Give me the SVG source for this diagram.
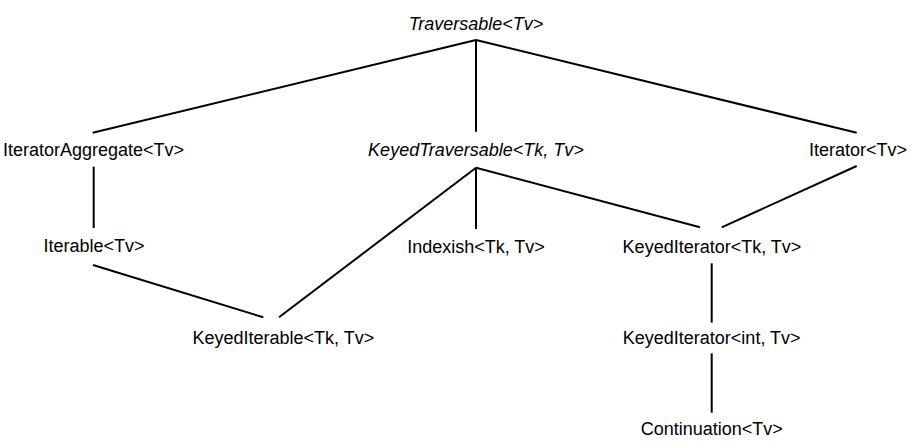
<svg xmlns="http://www.w3.org/2000/svg" width="920" height="446" viewBox="0 0 920 446">
<style>
text{font-family:"Liberation Sans",Arial,sans-serif;font-size:18px;fill:#000;text-anchor:middle}
.i{font-style:italic}
line{stroke:#000;stroke-width:2;stroke-linecap:butt}
</style>
<rect width="920" height="446" fill="#fff"/>
<g id="connectors">
<line x1="476" y1="40" x2="92.7" y2="132.7"/>
<line x1="476" y1="40" x2="476" y2="131.7"/>
<line x1="476" y1="40" x2="856.7" y2="132.7"/>
<line x1="93.7" y1="166.7" x2="93.7" y2="228"/>
<line x1="476" y1="167.7" x2="279" y2="317.3"/>
<line x1="476" y1="167.7" x2="476" y2="229"/>
<line x1="476" y1="167.7" x2="700" y2="227.3"/>
<line x1="856.7" y1="166" x2="721.7" y2="227.3"/>
<line x1="93" y1="265" x2="263.3" y2="317.3"/>
<line x1="711.7" y1="263.3" x2="711.7" y2="322.7"/>
<line x1="711.7" y1="353.3" x2="711.7" y2="412.7"/>
</g>
<g id="traversable"><text class="i" x="476" y="29.5">Traversable&lt;Tv&gt;</text></g>
<g id="iteratoraggregate"><text x="93.5" y="156">IteratorAggregate&lt;Tv&gt;</text></g>
<g id="keyedtraversable"><text class="i" x="476" y="156">KeyedTraversable&lt;Tk, Tv&gt;</text></g>
<g id="iterator"><text x="858" y="156">Iterator&lt;Tv&gt;</text></g>
<g id="iterable"><text x="94" y="252">Iterable&lt;Tv&gt;</text></g>
<g id="indexish"><text x="476" y="252.5">Indexish&lt;Tk, Tv&gt;</text></g>
<g id="keyediterator"><text x="712" y="253">KeyedIterator&lt;Tk, Tv&gt;</text></g>
<g id="keyediterable"><text x="283.3" y="343.5">KeyedIterable&lt;Tk, Tv&gt;</text></g>
<g id="keyediteratorint"><text x="711.7" y="344">KeyedIterator&lt;int, Tv&gt;</text></g>
<g id="continuation"><text x="711.7" y="435">Continuation&lt;Tv&gt;</text></g>
</svg>
